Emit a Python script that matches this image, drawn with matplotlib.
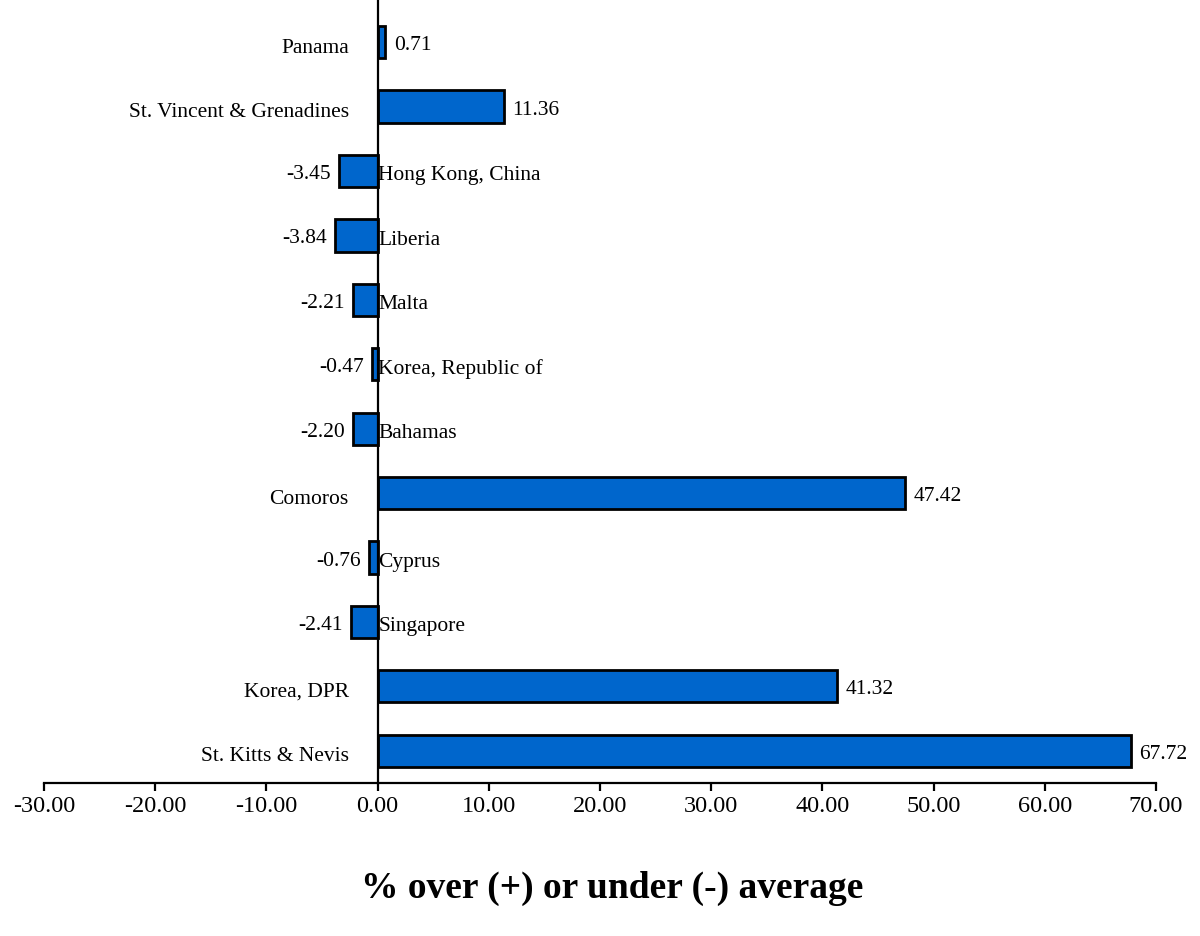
import numpy as np
import matplotlib
matplotlib.use('Agg')
import matplotlib.pyplot as plt

# data, bottom to top as drawn
countries = ['St. Kitts & Nevis', 'Korea, DPR', 'Singapore', 'Cyprus', 'Comoros',
             'Bahamas', 'Korea, Republic of', 'Malta', 'Liberia', 'Hong Kong, China',
             'St. Vincent & Grenadines', 'Panama']
values = [67.72, 41.32, -2.41, -0.76, 47.42, -2.20, -0.47, -2.21, -3.84, -3.45, 11.36, 0.71]
xticks = [-30, -20, -10, 0, 10, 20, 30, 40, 50, 60, 70]

plt.rcParams['font.family'] = ['Liberation Serif', 'DejaVu Serif']

fig = plt.figure(figsize=(12, 9.37), dpi=100)
ax = fig.add_axes([44/1200, 1-784/937, 1112/1200, 784/937])

y = np.arange(len(countries))
ax.barh(y, values, height=0.5, color='#0066CC', edgecolor='black', linewidth=2, zorder=3)

ax.set_xlim(-30, 70)
ax.set_ylim(-0.5, 11.67)

for i, (name, v) in enumerate(zip(countries, values)):
    if v >= 0:
        ax.annotate('%.2f' % v, (v, i), xytext=(6, 0), textcoords='offset points',
                    ha='left', va='center_baseline', fontsize=15.5)
        ax.text(-2.6, i - 0.04, name, ha='right', va='center_baseline', fontsize=15.5)
    else:
        ax.annotate('%.2f' % v, (v, i), xytext=(-6, 0), textcoords='offset points',
                    ha='right', va='center_baseline', fontsize=15.5)
        ax.text(0.05, i - 0.02, name, ha='left', va='center_baseline', fontsize=15.5)

ax.spines['left'].set_position(('data', 0))
ax.spines['left'].set_linewidth(1.6)
ax.spines['left'].set_zorder(4)
ax.spines['bottom'].set_linewidth(1.6)
ax.spines['top'].set_visible(False)
ax.spines['right'].set_visible(False)
ax.set_yticks([])
ax.set_xticks(xticks)
ax.set_xticklabels(['%.2f' % t for t in xticks])
ax.tick_params(axis='x', direction='out', length=6, width=1.6, pad=3, labelsize=17.5)

fig.text(612/1200, 1-888/937, '% over (+) or under (-) average', ha='center', va='center',
         fontsize=27, fontweight='bold')

plt.savefig('out.png', dpi=100)
